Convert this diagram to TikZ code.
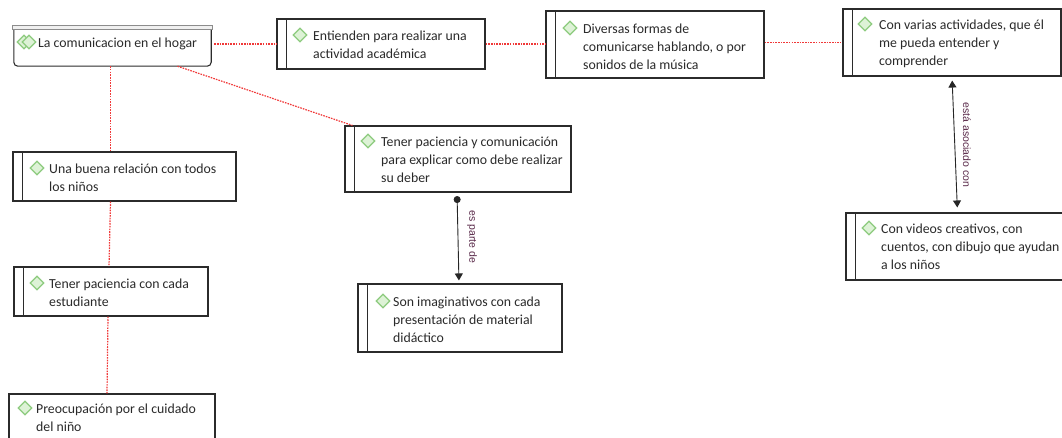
\documentclass[tikz,border=0pt]{standalone}
\usepackage{fontspec}
\setmainfont{Carlito}
\newfontfamily\lblfont{Liberation Sans}
\usetikzlibrary{shapes.geometric,arrows.meta}
\definecolor{boxline}{HTML}{2B2B2B}
\definecolor{txtc}{HTML}{2A2A2A}
\definecolor{dgreen}{HTML}{8DCB7E}
\definecolor{lgreen}{HTML}{DDF2D6}
\definecolor{connred}{HTML}{F03838}
\definecolor{lblc}{HTML}{5A2A4A}
\newcommand\mkbox[5]{\node[box, minimum width={#4-#2}, minimum height={#5-#3}] (#1) at ({(#2+#4)/2},{(#3+#5)/2}) {};}
\newcommand\mkbar[1]{\draw[boxedge] ([xshift=10pt]#1.north west) -- ([xshift=10pt]#1.south west);}
\begin{document}
\begin{tikzpicture}[x=1pt,y=-1pt,
  box/.style={draw=boxline, line width=1.1pt, inner sep=0pt, fill=white},
  boxedge/.style={draw=boxline, line width=1.1pt},
  dia/.style={diamond, draw=dgreen, fill=lgreen, line width=1.2pt, minimum width=14pt, minimum height=14pt, inner sep=0pt},
  txt/.style={align=left, inner sep=0pt, text=txtc, font=\fontsize{13.8}{18.3}\selectfont},
  redline/.style={draw=connred, dash pattern=on 1.6pt off 1.1pt, line width=1.2pt},
  arr/.style={draw=black!85, line width=0.9pt},
  lbl/.style={inner sep=0pt, text=lblc, font=\lblfont\fontsize{10.5}{12}\selectfont}]
\useasboundingbox (0,0) rectangle (1062,438);
% root
\node[inner sep=0pt, minimum width=197, minimum height=36] (root) at (112.5,48) {};
\draw[draw=boxline, line width=1.1pt, rounded corners=4pt, fill=white] (root.north west) -- (root.south west) -- (root.south east) -- (root.north east);
\node[draw=black!45, fill=black!6, line width=0.9pt, minimum width=200, minimum height=4.5, inner sep=0pt] (rootbar) at (112,27.5) {};
\node[dia] (d0a) at (24,42) {};
\node[dia] (d0b) at (29,42) {};
\node[txt, anchor=north west] (t0) at (38,34) {\strut La comunicacion en el hogar};
% boxes
\mkbox{ent}{277}{19}{485}{69}\mkbar{ent}
\node[dia] (d1) at (300,35) {};
\node[txt, anchor=north west] (t1) at (313,27) {\strut Entienden para realizar una\\actividad académica};
\mkbox{div}{546}{11}{764}{78}\mkbar{div}
\node[dia] (d2) at (570,28) {};
\node[txt, anchor=north west] (t2) at (583,20) {\strut Diversas formas de\\comunicarse hablando, o por\\sonidos de la música};
\mkbox{cv}{843}{9}{1061}{76}\mkbar{cv}
\node[dia] (d3) at (865,24) {};
\node[txt, anchor=north west] (t3) at (879,16) {\strut Con varias actividades, que él\\me pueda entender y\\comprender};
\mkbox{vid}{846}{213}{1066}{280}\mkbar{vid}
\node[dia] (d4) at (869,228) {};
\node[txt, anchor=north west] (t4) at (881,220) {\strut Con videos creativos, con\\cuentos, con dibujo que ayudan\\a los niños};
\mkbox{tpc}{345}{126}{571}{192}\mkbar{tpc}
\node[dia] (d5) at (368,141) {};
\node[txt, anchor=north west] (t5) at (381,133) {\strut Tener paciencia y comunicación\\para explicar como debe realizar\\su deber};
\mkbox{son}{358}{284}{562}{352}\mkbar{son}
\node[dia] (d6) at (383,301) {};
\node[txt, anchor=north west] (t6) at (393,293) {\strut Son imaginativos con cada\\presentación de material\\didáctico};
\mkbox{ub}{13}{152}{236}{201}\mkbar{ub}
\node[dia] (d7) at (37,168) {};
\node[txt, anchor=north west] (t7) at (49,160) {\strut Una buena relación con todos\\los niños};
\mkbox{tp}{14}{267}{208}{316}\mkbar{tp}
\node[dia] (d8) at (37,283) {};
\node[txt, anchor=north west] (t8) at (49,275) {\strut Tener paciencia con cada\\estudiante};
\mkbox{pre}{9}{394}{215}{446}
\node[dia] (d9) at (25,408) {};
\node[txt, anchor=north west] (t9) at (36,400) {\strut Preocupación por el cuidado\\del niño};
% red dotted connectors
\draw[redline, shorten <=3pt] (root.east |- ent.west) -- (ent.west);
\draw[redline] (ent.east) -- (ent.east -| div.west);
\draw[redline, shorten >=2pt] (div.east |- cv.west) -- (cv.west);
\draw[redline] ([xshift=-2pt]root.south) -- ([xshift=-2pt]root.south |- ub.north);
\draw[redline] ([xshift=-14pt]ub.south) -- ([xshift=-2pt]tp.north);
\draw[redline] ([xshift=-3pt]tp.south) -- ([xshift=-5pt]pre.north);
\draw[redline] ([xshift=65pt]root.south) -- ([xshift=8pt]tpc.north west);
% black arrows
\draw[arr, {Circle[length=7pt]}-{Triangle[length=7pt,width=8pt]}, shorten <=3.5pt, shorten >=3pt] ([xshift=-1pt]tpc.south) -- ([xshift=-1pt]son.north);
\node[lbl, rotate=-90] (l1) at (472,237) {es parte de};
\draw[arr, {Triangle[length=7pt,width=8pt]}-{Triangle[length=7pt,width=8pt]}, shorten <=4pt, shorten >=5pt] (cv.south) -- ([xshift=1.5pt]vid.north);
\node[lbl, rotate=-90] (l2) at (967,145) {está asociado con};
\end{tikzpicture}
\end{document}
